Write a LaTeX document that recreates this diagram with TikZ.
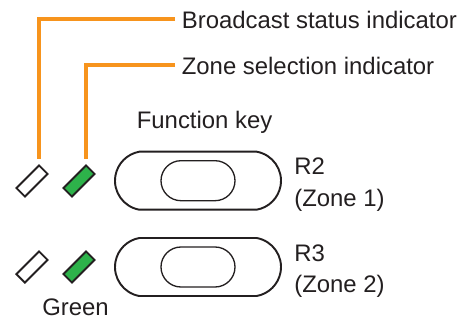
\documentclass[tikz,border=0pt]{standalone}
\usepackage{fontspec}
\setmainfont{Liberation Sans}
\usetikzlibrary{positioning, shapes.misc}

\definecolor{ledorange}{RGB}{247,148,29}
\definecolor{ledgreen}{RGB}{45,178,74}
\definecolor{txtgray}{RGB}{35,31,32}

\begin{document}
\begin{tikzpicture}[
    lbl/.style={font=\fontsize{13.6}{17.8}\selectfont, text=txtgray, inner sep=0pt},
    callout/.style={lbl, inner xsep=0.13cm},
    leader/.style={draw=ledorange, line width=2.3pt, shorten >=0.11cm},
    led/.style={draw=txtgray, line width=1.1pt, rectangle, rotate=45,
                minimum width=0.64cm, minimum height=0.24cm, inner sep=0pt},
    ledoff/.style={led, fill=white},
    ledon/.style={led, fill=ledgreen},
    keyout/.style={draw=txtgray, line width=1.1pt, rounded rectangle,
                   rounded rectangle arc length=160,
                   minimum width=3.32cm, minimum height=1.16cm, inner sep=0pt},
    keyin/.style={draw=txtgray, line width=0.75pt, rounded rectangle,
                  minimum width=1.48cm, minimum height=0.8cm, inner sep=0pt},
]
\useasboundingbox (0,0) rectangle (9.38,-6.46);

% ── Function keys ──
\node[keyout] (key1) at (3.96, -3.614) {};
\node[keyin] (key1in) at (key1.center) {};
\node[keyout] (key2) at (3.96, -5.34) {};
\node[keyin] (key2in) at (key2.center) {};

% ── Indicators ──
\node[ledoff] (bc1) at (0.64, -3.62) {};
\node[ledon] (zs1) at (1.58, -3.62) {};
\node[ledoff] (bc2) at (0.64, -5.34) {};
\node[ledon] (zs2) at (1.58, -5.34) {};

% ── Callouts ──
\node[callout, anchor=base west] (bcast) at (3.5, -0.56) {Broadcast status indicator};
\node[callout, anchor=base west] (zonesel) at (3.5, -1.48) {Zone selection indicator};

\draw[leader] (bcast.west) -| (bc1.north east);
\draw[leader] (zonesel.west) -| (zs1.north east);

% ── Labels ──
\node[lbl, anchor=base west] (fkey) at (2.73, -2.56) {Function key};
\node[lbl, align=left, right=0.24cm of key1, yshift=-0.08cm] (r2) {R2\\(Zone 1)};
\node[lbl, align=left, right=0.24cm of key2, yshift=-0.08cm] (r3) {R3\\(Zone 2)};
\node[lbl, anchor=base west] (green) at (0.84, -6.31) {Green};

\end{tikzpicture}
\end{document}
